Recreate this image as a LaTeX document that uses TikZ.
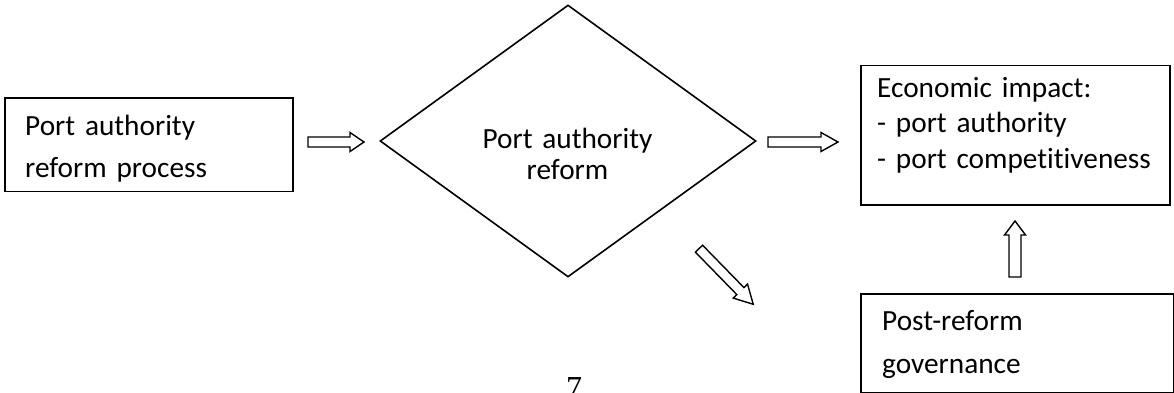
\documentclass[tikz,border=0pt]{standalone}
\usepackage{fontspec}
\setmainfont{Carlito}[Ligatures=NoCommon, WordSpace=0.85]
\newfontfamily\pagefont{Liberation Serif}
\usetikzlibrary{shapes.geometric}
\tikzset{
  box/.style={rectangle, draw, line width=1.8pt, inner sep=0pt},
  txt/.style={inner sep=0pt, text width=320pt, align=left, anchor=base west},
  arrowline/.style={draw, line width=1.4pt, fill=white, line join=miter},
  % hollow block arrow: length, head length, shaft half-width, head half-width
  pics/blockarrow/.style n args={4}{code={
    \path[arrowline] (0,-#3) -- ({#1-#2},-#3) -- ({#1-#2},-#4) -- (#1,0)
      -- ({#1-#2},#4) -- ({#1-#2},#3) -- (0,#3) -- cycle;
  }}
}
\begin{document}
\begin{tikzpicture}[x=1pt,y=1pt]
\useasboundingbox (0,0) rectangle (1174,392);
\fill[white] (0,0) rectangle (1174,392);

% boxes and decision
\node[box, minimum width=288pt, minimum height=93.5pt, anchor=north west] (src) at (4,295) {};
\node[diamond, draw, line width=1.6pt, inner sep=0pt, minimum width=376pt, minimum height=272pt] (reform) at (568,251) {};
\node[box, minimum width=309pt, minimum height=139.5pt, anchor=north west] (impact) at (860,327.5) {};
\node[box, minimum width=312.5pt, minimum height=98.5pt, anchor=north west] (gov) at (860,99) {};

% labels
\node[txt, font=\fontsize{29.3}{42}\selectfont] (srctxt) at (25,257) {Port authority\\reform process};
\node[txt, align=center, anchor=base, font=\fontsize{29.3}{30.7}\selectfont] (reformtxt) at (567.5,243.7) {Port authority\\reform};
\node[txt, font=\fontsize{29.3}{35.5}\selectfont] (impacttxt) at (877,294.7) {Economic impact:\\- port authority\\- port competitiveness};
\node[txt, font=\fontsize{29.3}{43}\selectfont] (govtxt) at (882,62) {Post-reform\\governance};

% page number, running off the bottom edge
\node[inner sep=0pt, anchor=base west, font=\pagefont\fontsize{32}{38}\selectfont] (pageno) at (566,-6) {7};

% block arrows
\coordinate (a1) at (308,250);
\coordinate (a2) at (768,250);
\coordinate (a3) at (1015,115);
\coordinate (a4) at (699,143.3);
\pic at (a1) {blockarrow={56}{14}{5}{9.5}};
\pic at (a2) {blockarrow={70}{17}{5}{9.5}};
\pic[rotate=90] at (a3) {blockarrow={56}{14}{6}{10.5}};
\pic[rotate=-45.7] at (a4) {blockarrow={77.7}{18.5}{5}{10}};
\end{tikzpicture}
\end{document}
